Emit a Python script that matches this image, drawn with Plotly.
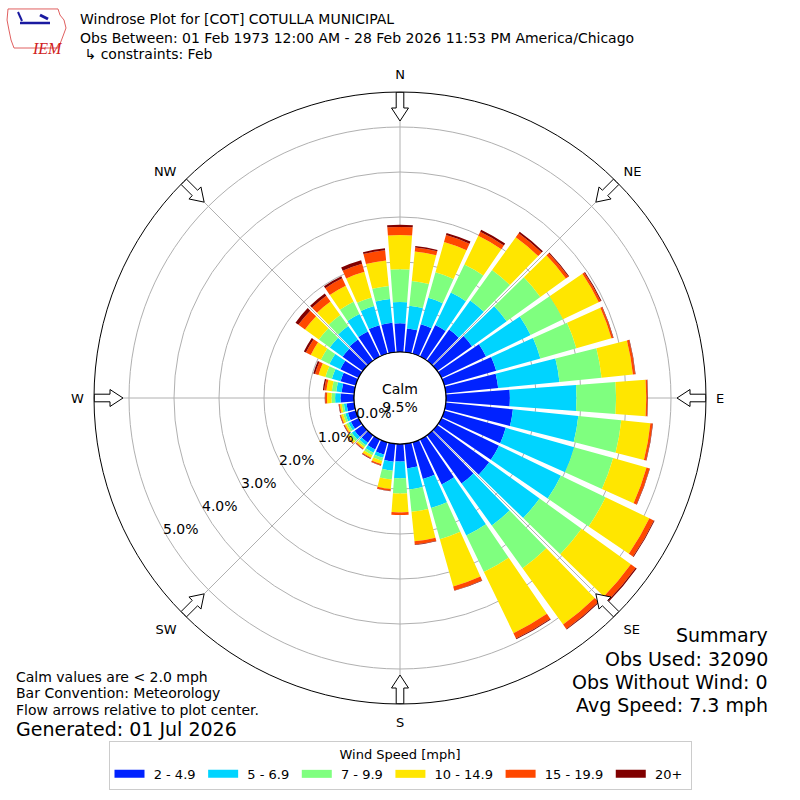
import numpy as np
import plotly.graph_objects as go

# ---------------- data (percent of observations) ----------------
directions = [0, 10, 20, 30, 40, 50, 60, 70, 80, 90, 100, 110, 120, 130, 140, 150, 160, 170,
              180, 190, 200, 210, 220, 230, 240, 250, 260, 270, 280, 290, 300, 310, 320, 330, 340, 350]
speed_bins = ["2 - 4.9", "5 - 6.9", "7 - 9.9", "10 - 14.9", "15 - 19.9", "20+"]
bin_colors = ["#0022ff", "#00d4ff", "#7fff7f", "#ffe600", "#ff4800", "#800000"]

pct_2_5 = [0.64, 0.53, 0.68, 0.78, 0.85, 0.95, 1.10, 1.20, 1.17, 1.42, 1.50, 1.42, 1.42, 1.42, 1.32, 1.11, 0.85, 0.55,
           0.39, 0.40, 0.28, 0.25, 0.20, 0.22, 0.19, 0.18, 0.17, 0.30, 0.28, 0.35, 0.45, 0.55, 0.58, 0.62, 0.66, 0.66]
pct_5_7 = [0.47, 0.51, 0.61, 0.80, 0.80, 0.95, 1.10, 1.02, 1.37, 1.48, 1.46, 1.58, 1.53, 1.38, 1.15, 1.26, 0.67, 0.47,
           0.37, 0.20, 0.08, 0.08, 0.07, 0.08, 0.06, 0.06, 0.06, 0.12, 0.12, 0.20, 0.27, 0.35, 0.37, 0.43, 0.44, 0.53]
pct_7_10 = [0.73, 0.55, 0.59, 0.69, 0.83, 0.92, 0.80, 0.83, 0.94, 0.88, 0.96, 0.90, 1.10, 1.15, 1.17, 0.90, 0.72, 0.50,
            0.34, 0.20, 0.07, 0.06, 0.05, 0.06, 0.05, 0.05, 0.05, 0.08, 0.10, 0.15, 0.21, 0.30, 0.30, 0.30, 0.20, 0.29]
pct_10_15 = [0.76, 0.66, 0.70, 0.71, 0.90, 0.70, 0.88, 0.81, 0.70, 0.67, 0.65, 0.77, 1.08, 1.35, 1.54, 1.51, 1.09, 0.66,
             0.42, 0.21, 0.07, 0.06, 0.04, 0.05, 0.04, 0.05, 0.04, 0.10, 0.12, 0.16, 0.25, 0.38, 0.37, 0.40, 0.59, 0.57]
pct_15_20 = [0.18, 0.09, 0.16, 0.10, 0.11, 0.07, 0.05, 0.04, 0.05, 0.03, 0.05, 0.07, 0.11, 0.13, 0.12, 0.13, 0.09, 0.07,
             0.06, 0.04, 0.03, 0.02, 0.02, 0.02, 0.02, 0.02, 0.02, 0.04, 0.05, 0.08, 0.12, 0.18, 0.16, 0.18, 0.19, 0.23]
pct_20p = [0.05, 0.03, 0.05, 0.05, 0.04, 0.02, 0.02, 0.01, 0.01, 0.01, 0.01, 0.01, 0.02, 0.03, 0.02, 0.02, 0.01, 0.01,
           0.00, 0.01, 0.01, 0.01, 0.01, 0.01, 0.01, 0.01, 0.01, 0.01, 0.03, 0.04, 0.05, 0.08, 0.06, 0.05, 0.08, 0.04]
series = [pct_2_5, pct_5_7, pct_7_10, pct_10_15, pct_15_20, pct_20p]

calm_pct = 9.5
radial_ticks = [0, 1, 2, 3, 4, 5]
radial_labels = ["0.0%", "1.0%", "2.0%", "3.0%", "4.0%", "5.0%"]
compass_dirs = [0, 45, 90, 135, 180, 225, 270, 315]
compass_labels = ["N", "NE", "E", "SE", "S", "SW", "W", "NW"]

title_lines = ["Windrose Plot for [COT] COTULLA MUNICIPAL",
               "Obs Between: 01 Feb 1973 12:00 AM - 28 Feb 2026 11:53 PM America/Chicago",
               " \u21b3 constraints: Feb"]
summary_lines = ["Summary", "Obs Used: 32090", "Obs Without Wind: 0", "Avg Speed: 7.3 mph"]
note_lines = ["Calm values are < 2.0 mph", "Bar Convention: Meteorology", "Flow arrows relative to plot center."]
generated = "Generated: 01 Jul 2026"

# ---------------- geometry ----------------
W = H = 800
CX, CY = 400, 398          # polar centre (px)
R_OUT = 306                # outer circle radius (px)
R_HOLE = 46                # calm circle radius (px)
PX_PER_PCT = 45
R_MAX = (R_OUT - R_HOLE) / PX_PER_PCT
RLABEL_BEARING = 239       # direction along which the radial labels sit
RLABEL_INSET = 16          # labels sit slightly inside their ring
FONT = "DejaVu Sans"

fig = go.Figure()

for name, vals, col in zip(speed_bins, series, bin_colors):
    fig.add_trace(go.Barpolar(
        r=vals, theta=directions, width=8.5, name=name, showlegend=False,
        marker=dict(color=col, line=dict(width=0)),
        hoverinfo="skip"))

# legend entries drawn as wide colour patches
for name, col in zip(speed_bins, bin_colors):
    fig.add_trace(go.Scatterpolar(r=[None], theta=[None], mode="lines",
                                  name="\u00a0" + name + "\u2009",
                                  line=dict(color=col, width=8), hoverinfo="skip"))

# flow arrows (decoration) expressed in polar coordinates
def px_to_r(rpx):
    return (rpx - R_HOLE) / PX_PER_PCT

arrow_pts = [(277, 0), (290, 8.5), (290, 3.8), (305.8, 3.8), (305.8, -3.8), (290, -3.8), (290, -8.5), (277, 0)]
for d in compass_dirs:
    rr, tt = [], []
    for a, p in arrow_pts:
        rr.append(px_to_r(np.hypot(a, p)))
        tt.append(d + np.degrees(np.arctan2(p, a)))
    fig.add_trace(go.Scatterpolar(r=rr, theta=tt, mode="lines", fill="toself",
                                  fillcolor="white", line=dict(color="black", width=1),
                                  showlegend=False, hoverinfo="skip"))

dom_x = [(CX - R_OUT) / W, (CX + R_OUT) / W]
dom_y = [1 - (CY + R_OUT) / H, 1 - (CY - R_OUT) / H]

fig.update_layout(
    width=W, height=H, margin=dict(l=0, r=0, t=0, b=0),
    paper_bgcolor="white", plot_bgcolor="white",
    font=dict(family=FONT, color="black", size=13),
    polar=dict(
        domain=dict(x=dom_x, y=dom_y),
        hole=R_HOLE / R_OUT,
        bgcolor="white",
        barmode="stack",
        radialaxis=dict(range=[0, R_MAX], tickvals=radial_ticks, showticklabels=False,
                        showline=False, ticks="", gridcolor="#b0b0b0", gridwidth=1),
        angularaxis=dict(rotation=90, direction="clockwise", tickvals=compass_dirs,
                         ticktext=compass_labels, showline=True, linecolor="black", linewidth=1,
                         gridcolor="#b0b0b0", gridwidth=1, ticks="outside", ticklen=7,
                         tickcolor="rgba(0,0,0,0)", tickfont=dict(size=13, family=FONT)),
    ),
    legend=dict(orientation="h", x=0.5, xanchor="center", y=1 - 741 / H, yanchor="top",
                bordercolor="#cccccc", borderwidth=1, bgcolor="white",
                font=dict(size=13, family=FONT), itemwidth=30,
                title=dict(text="Wind Speed [mph]", side="top center", font=dict(size=13, family=FONT)),
                traceorder="normal"),
)

# radial labels placed along the ring radii
for v, lab in zip(radial_ticks, radial_labels):
    rp = R_HOLE + v * PX_PER_PCT - RLABEL_INSET
    b = np.radians(RLABEL_BEARING)
    fig.add_annotation(x=(CX + rp * np.sin(b)) / W, y=1 - (CY - rp * np.cos(b)) / H,
                       xref="paper", yref="paper", text=lab, showarrow=False,
                       xanchor="center", yanchor="middle", font=dict(size=14, family=FONT))

# calm circle
fig.add_shape(type="circle", xref="paper", yref="paper",
              x0=(CX - R_HOLE) / W, x1=(CX + R_HOLE) / W,
              y0=1 - (CY + R_HOLE) / H, y1=1 - (CY - R_HOLE) / H,
              line=dict(color="black", width=1.2), fillcolor="white", layer="above")
fig.add_annotation(x=CX / W, y=1 - CY / H, xref="paper", yref="paper",
                   text="Calm<br>%.1f%%" % calm_pct, showarrow=False,
                   font=dict(size=14, family=FONT))

# titles and text blocks
for txt, yy in zip(title_lines, [19, 38, 54]):
    fig.add_annotation(x=78 / W, y=1 - yy / H, xref="paper", yref="paper", text=txt,
                       showarrow=False, xanchor="left", yanchor="middle",
                       font=dict(size=14, family=FONT))
for txt, yy in zip(summary_lines, [635, 659, 682, 705]):
    fig.add_annotation(x=770 / W, y=1 - yy / H, xref="paper", yref="paper", text=txt,
                       showarrow=False, xanchor="right", yanchor="middle",
                       font=dict(size=19, family=FONT))
for txt, yy in zip(note_lines, [677, 693, 710]):
    fig.add_annotation(x=14 / W, y=1 - yy / H, xref="paper", yref="paper", text=txt,
                       showarrow=False, xanchor="left", yanchor="middle",
                       font=dict(size=14, family=FONT))
fig.add_annotation(x=14 / W, y=1 - 729 / H, xref="paper", yref="paper", text=generated,
                   showarrow=False, xanchor="left", yanchor="middle", font=dict(size=19, family=FONT))

# IEM logo (approximate)
def P(x, y):
    return "%.4f,%.4f" % (x / W, 1 - y / H)

outline = [(8, 9), (58, 9), (60, 15), (64, 20), (66, 28), (63, 36), (60, 44), (58, 48), (14, 48), (11, 40), (9, 30), (7, 20)]
path = "M " + " L ".join(P(x, y) for x, y in outline) + " Z"
fig.add_shape(type="path", xref="paper", yref="paper", path=path,
              line=dict(color="#e06060", width=1), fillcolor="rgba(0,0,0,0)")
fig.add_shape(type="line", xref="paper", yref="paper", x0=20 / W, x1=50 / W, y0=1 - 23 / H, y1=1 - 23 / H,
              line=dict(color="#1a1aa0", width=2.5))
fig.add_shape(type="line", xref="paper", yref="paper", x0=18 / W, x1=22 / W, y0=1 - 12 / H, y1=1 - 21 / H,
              line=dict(color="#1a1aa0", width=2))
fig.add_shape(type="line", xref="paper", yref="paper", x0=40 / W, x1=48 / W, y0=1 - 15 / H, y1=1 - 19 / H,
              line=dict(color="#1a1aa0", width=3))
fig.add_annotation(x=30 / W, y=1 - 38 / H, xref="paper", yref="paper", text="<i>IEM</i>",
                   showarrow=False, font=dict(size=16, family="Liberation Serif", color="#d02020"))

fig.write_html("out.html", config={"displayModeBar": False},
               post_script="document.body.style.margin='0px';")
